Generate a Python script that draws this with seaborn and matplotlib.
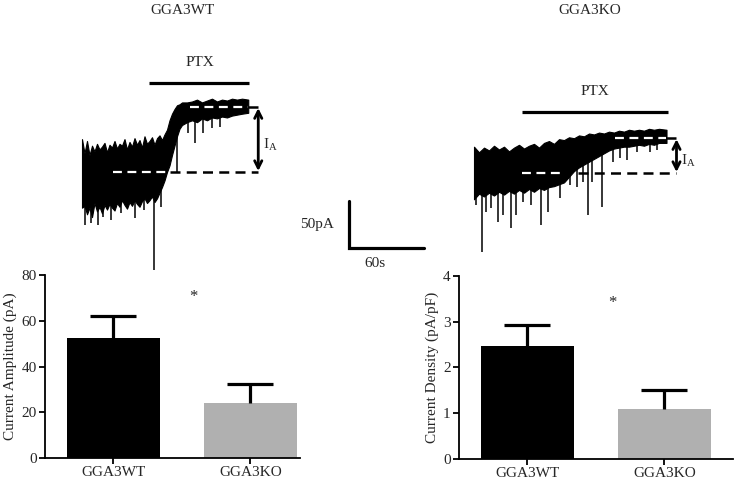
import numpy as np
import pandas as pd
import matplotlib
matplotlib.use("Agg")
import matplotlib.pyplot as plt
import seaborn as sns

# ---------------- data ----------------
groups = ["GGA3WT", "GGA3KO"]
amp_mean = [52.6, 24.0]          # pA
amp_sem = [9.5, 8.3]
dens_mean = [2.47, 1.10]         # pA/pF
dens_sem = [0.46, 0.40]
bar_colors = ["#000000", "#b0b0b0"]

# example trace WT (time s, current pA relative to baseline): noise envelope
wt_t = [0, 2, 4, 6, 8, 10, 12, 14, 16, 18, 20, 22, 24, 26, 28, 30, 32, 34, 36, 38,
        40, 42, 44, 46, 48, 50, 52, 54, 56, 58, 60, 62, 64, 66, 68, 70, 72, 74, 76,
        78, 80, 84, 88, 92, 96, 100, 104, 108, 112, 116, 120, 124, 128, 133]
wt_hi = [35, 20, 33, 18, 28, 22, 30, 24, 27, 31, 21, 29, 26, 33, 25, 30, 28, 35, 24,
         32, 27, 36, 29, 34, 26, 38, 30, 33, 37, 29, 36, 39, 34, 40, 45, 55, 62, 67,
         71, 72, 74, 74, 75, 77, 74, 76, 78, 75, 77, 76, 78, 77, 78, 77]
wt_lo = [-38, -36, -45, -38, -48, -33, -42, -37, -44, -35, -40, -34, -38, -41, -33,
         -37, -30, -35, -39, -32, -36, -30, -34, -37, -31, -28, -33, -30, -26, -32,
         -28, -22, -16, -9, 0, 7, 18, 28, 38, 46, 50, 53, 55, 53, 57, 55, 58, 57, 59,
         58, 60, 61, 62, 63]
wt_spk_t = [2, 7, 13, 17, 23, 31, 42, 50, 58, 63, 76, 85, 90, 97, 104, 110]
wt_spk_v = [-56, -54, -56, -48, -51, -44, -49, -40, -104, -37, 0, 41, 31, 41, 47, 48]
wt_plateau = 69

# example trace KO
ko_t = [0, 4, 8, 12, 16, 20, 24, 28, 32, 36, 40, 44, 48, 52, 56, 60, 64, 68, 72, 76,
        80, 84, 88, 92, 96, 100, 104, 108, 112, 116, 120, 124, 128, 132, 136, 140,
        144, 148, 154]
ko_hi = [28, 22, 27, 24, 29, 25, 28, 23, 27, 30, 26, 29, 31, 27, 32, 34, 31, 36, 35,
         38, 37, 40, 39, 42, 41, 43, 42, 44, 43, 45, 44, 46, 45, 46, 45, 47, 46, 47, 46]
ko_lo = [-28, -22, -25, -21, -24, -20, -23, -19, -22, -18, -21, -17, -20, -16, -18,
         -15, -14, -12, -10, -4, 2, 6, 9, 12, 15, 18, 21, 24, 26, 27, 28, 28, 29, 30,
         29, 31, 30, 32, 32]
ko_spk_t = [1.6, 6.4, 9.6, 13.6, 19.2, 23.2, 29.6, 33.6, 39.2, 45.6, 53.6, 59.2, 68.8,
            76.8, 82.4, 87.2, 91.2, 94.4, 102.4, 111.2, 116.8, 122.4, 130.4, 140.8,
            146.4]
ko_spk_v = [-34, -84, -41, -37, -52, -45, -59, -45, -31, -34, -55, -41, -27, -13, -15,
            -10, -45, -10, -36, 12, 16, 14, 22, 22, 24]
ko_plateau = 37

# ---------------- style ----------------
sns.set_theme(style="ticks")
plt.rcParams["font.family"] = ["Liberation Serif", "DejaVu Serif"]
plt.rcParams["mathtext.fontset"] = "stix"
FS = 11

fig = plt.figure(figsize=(7.36, 4.86), dpi=100)


def bar_panel(rect, vals, errs, ylim, yticks, ylabel, star_xy):
    ax = fig.add_axes(rect)
    df = pd.DataFrame({"group": groups, "value": vals})
    sns.barplot(data=df, x="group", y="value", hue="group", palette=bar_colors,
                legend=False, width=0.68, saturation=1, errorbar=None,
                linewidth=0, ax=ax)
    pos = np.arange(len(vals))
    tops = np.asarray(vals) + np.asarray(errs)
    ax.vlines(pos, vals, tops, color="black", lw=2.3, zorder=3)
    ax.hlines(tops, pos - 0.168, pos + 0.168, color="black", lw=2.3, zorder=3)
    ax.set_xlim(-0.5, rect[2] * 736 / 137 - 0.5)
    ax.set_ylim(*ylim)
    ax.set_yticks(yticks)
    ax.set_xlabel("")
    ax.set_ylabel(ylabel, fontsize=FS, labelpad=3)
    ax.tick_params(axis="both", labelsize=FS, width=1.3, length=4, color="black",
                   pad=2)
    for s in ["top", "right"]:
        ax.spines[s].set_visible(False)
    for s in ["left", "bottom"]:
        ax.spines[s].set_linewidth(1.3)
        ax.spines[s].set_color("black")
    ax.text(star_xy[0], star_xy[1], "*", fontsize=FS + 1, ha="center", va="center",
            transform=ax.transAxes)
    return ax


bar_panel([0.0611, 0.0576, 0.3465, 0.3765], amp_mean, amp_sem, (0, 80),
          [0, 20, 40, 60, 80], "Current Amplitude (pA)", (0.58, 0.88))
bar_panel([0.6236, 0.0556, 0.3723, 0.3765], dens_mean, dens_sem, (0, 4),
          [0, 1, 2, 3, 4], "Current Density (pA/pF)", (0.56, 0.85))

# ---------------- traces (overlay axes in seconds / pA) ----------------
S_PER_PX = 0.8
PA_PER_PX = 50 / 47
ov = fig.add_axes([0, 0, 1, 1], zorder=5)
ov.set_xlim(0, 736 * S_PER_PX)
ov.set_ylim(0, 486 * PA_PER_PX)
ov.axis("off")
ov.patch.set_alpha(0)


def trace(t0, i0, t, hi, lo, spk_t, spk_v, plateau, base_white, top_white,
          black_base_start, ptx, ptx_y):
    t = np.asarray(t, float)
    hi = np.asarray(hi, float)
    lo = np.asarray(lo, float)
    ov.fill_between(t0 + t, i0 + lo, i0 + hi, color="black", lw=0.8)
    st = np.asarray(spk_t, float)
    ov.vlines(t0 + st, i0 + np.asarray(spk_v, float), i0 + np.interp(st, t, lo) + 2,
              color="black", lw=1.1)
    tend = t[-1]
    arrow_t = tend + 8
    ov.plot([t0 + base_white[0], t0 + base_white[1]], [i0, i0], color="white",
            lw=1.6, ls=(0, (4, 2.5)))
    ov.plot([t0 + black_base_start, t0 + arrow_t], [i0, i0], color="black",
            lw=1.8, ls=(0, (4, 2.5)))
    ov.plot([t0 + top_white, t0 + tend], [i0 + plateau] * 2, color="white",
            lw=1.6, ls=(0, (4, 2.5)))
    ov.plot([t0 + tend, t0 + arrow_t], [i0 + plateau] * 2, color="black",
            lw=1.8, ls=(0, (4, 2.5)))
    ov.annotate("", xy=(t0 + arrow_t, i0 + 1), xytext=(t0 + arrow_t, i0 + plateau - 1),
                arrowprops=dict(arrowstyle="<->", lw=2.0, color="black",
                                mutation_scale=13, shrinkA=0, shrinkB=0))
    ov.text(t0 + arrow_t + 4, i0 + plateau / 2 - 6, r"I$_\mathregular{A}$",
            fontsize=FS, ha="left", va="center")
    ov.plot([t0 + ptx[0], t0 + ptx[1]], [i0 + ptx_y] * 2, color="black", lw=2.3,
            solid_capstyle="butt")
    ov.text(t0 + (ptx[0] + ptx[1]) / 2, i0 + ptx_y + 22, "PTX", fontsize=FS,
            ha="center", va="center")


# WT trace
wt_t0, wt_i0 = 82 * S_PER_PX, (486 - 172) * PA_PER_PX
trace(wt_t0, wt_i0, wt_t, wt_hi, wt_lo, wt_spk_t, wt_spk_v, wt_plateau,
      (25, 70), 86, 70, (54, 134), 95)
ov.text(183 * S_PER_PX, (486 - 10) * PA_PER_PX, "GGA3WT", fontsize=FS,
        ha="center", va="center")

# KO trace
ko_t0, ko_i0 = 474 * S_PER_PX, (486 - 173) * PA_PER_PX
trace(ko_t0, ko_i0, ko_t, ko_hi, ko_lo, ko_spk_t, ko_spk_v, ko_plateau,
      (38, 73), 113, 83, (38, 155), 65)
ov.text(590 * S_PER_PX, (486 - 10) * PA_PER_PX, "GGA3KO", fontsize=FS,
        ha="center", va="center")

# scale bar: 50 pA / 60 s
sb_t, sb_i = 349 * S_PER_PX, (486 - 248) * PA_PER_PX
ov.plot([sb_t, sb_t, sb_t + 60], [sb_i + 50, sb_i, sb_i], color="black", lw=2.3,
        solid_joinstyle="miter")
ov.text(sb_t - 12, sb_i + 25, "50pA", fontsize=FS, ha="right", va="center")
ov.text(sb_t + 21, sb_i - 17, "60s", fontsize=FS, ha="center", va="center")

fig.savefig("out.png", dpi=100)
